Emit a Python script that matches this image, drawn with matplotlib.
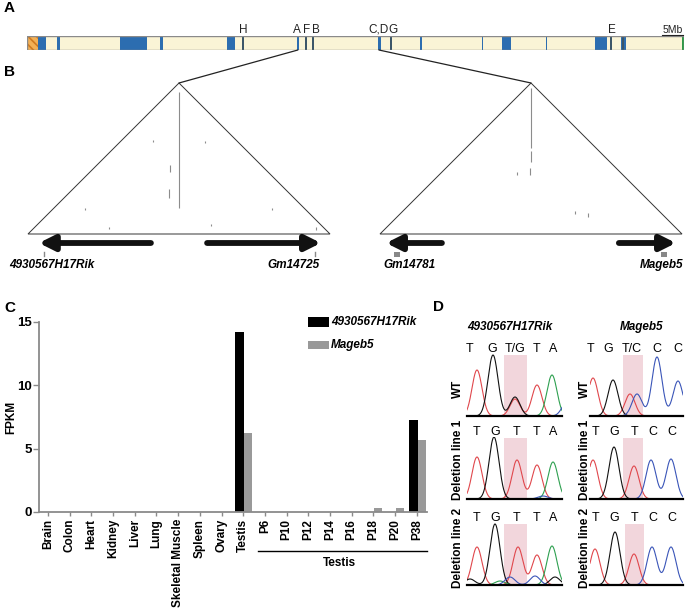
import matplotlib
matplotlib.use('Agg')
import matplotlib.pyplot as plt
import numpy as np
from matplotlib.patches import Rectangle, Polygon, ConnectionPatch
from matplotlib.transforms import blended_transform_factory

plt.rcParams['font.family'] = ['Liberation Sans', 'DejaVu Sans']
plt.rcParams['hatch.linewidth'] = 1.2

# ---------------- data ----------------
# Panel A: chromosome X (Mb)
chrom_length_mb = 171.0
centromere_mb = (0.0, 2.9)
blue_band_start = [2.9, 7.8, 24.2, 34.6, 52.1, 70.2, 91.4, 102.3, 118.4, 123.6, 135.1, 147.8, 154.6]
blue_band_end = [4.9, 8.6, 31.2, 35.4, 54.1, 70.8, 92.1, 102.8, 118.7, 126.0, 135.3, 151.0, 155.9]
dark_mark_mb = [56.2, 72.7, 74.4, 94.7, 152.0, 155.2]
end_band_mb = (170.4, 171.0)
marker_labels = ['H', 'A', 'F', 'B', 'C,D', 'G', 'E']
marker_label_mb = [56.2, 70.2, 72.9, 75.2, 91.6, 95.3, 152.3]
zoom_region_mb = [70.5, 91.6]

# Panel B: genes (fractions of each zoomed region)
gene_names = ['4930567H17Rik', 'Gm14725', 'Gm14781', 'Mageb5']
gene_region = [0, 0, 1, 1]
arrow_tail = [0.407, 0.593, 0.205, 0.791]
arrow_tip = [0.036, 0.970, 0.020, 0.980]
gene_mark = [0.053, 0.950, 0.056, 0.940]
gene_mark_kind = ['tick', 'tick', 'square', 'square']
gene_label_pos = [-0.063, 0.967, 0.010, 1.003]
gene_label_align = ['left', 'right', 'left', 'right']
# contact-map signal marks (x frac of region, y frac of height from apex, length frac)
contact_region = [0, 0, 0, 0, 0, 0, 0, 0, 0, 0, 1, 1, 1, 1, 1, 1]
contact_x = [0.500, 0.414, 0.586, 0.470, 0.466, 0.189, 0.268, 0.607, 0.808, 0.955, 0.500, 0.500, 0.497, 0.455, 0.646, 0.690]
contact_y = [0.060, 0.380, 0.385, 0.540, 0.700, 0.828, 0.955, 0.935, 0.830, 0.955, 0.030, 0.450, 0.560, 0.590, 0.850, 0.860]
contact_len = [0.770, 0.012, 0.012, 0.05, 0.06, 0.01, 0.01, 0.01, 0.01, 0.02, 0.400, 0.070, 0.050, 0.02, 0.02, 0.03]

# Panel C: FPKM
categories = ['Brain', 'Colon', 'Heart', 'Kidney', 'Liver', 'Lung', 'Skeletal Muscle',
              'Spleen', 'Ovary', 'Testis', 'P6', 'P10', 'P12', 'P14', 'P16', 'P18', 'P20', 'P38']
series_names = ['4930567H17Rik', 'Mageb5']
rik_fpkm = [0, 0, 0, 0, 0, 0, 0, 0, 0, 14.2, 0, 0, 0, 0, 0, 0, 0, 7.3]
mageb5_fpkm = [0, 0, 0, 0, 0, 0, 0, 0, 0, 6.2, 0, 0, 0, 0, 0, 0.3, 0.3, 5.7]
yticks_c = [0, 5, 10, 15]
group_label = 'Testis'
group_first, group_last = 'P6', 'P38'

# Panel D: chromatograms (channel, position, height)
trace_rows = ['WT', 'Deletion line 1', 'Deletion line 2']
trace_genes = ['4930567H17Rik', 'Mageb5']
rik_wt_peaks = [('red', 10, 46), ('black', 26, 61), ('red', 48, 17), ('black', 48, 19),
                ('red', 70, 31), ('green', 85, 41), ('blue', 100, 14)]
rik_del1_peaks = [('red', 10, 42), ('black', 27, 62), ('red', 50, 39), ('red', 70, 34),
                  ('green', 86, 37), ('blue', 76, 3)]
rik_del2_peaks = [('black', 3, 6), ('red', 10, 38), ('black', 28, 61), ('green', 33, 4),
                  ('blue', 43, 8), ('red', 51, 38), ('blue', 68, 9), ('red', 70, 30),
                  ('green', 85, 39), ('black', 88, 8)]
mageb5_wt_peaks = [('red', 3, 38), ('black', 23, 36), ('red', 40, 22), ('blue', 47, 22),
                   ('blue', 67, 59), ('blue', 88, 35)]
mageb5_del1_peaks = [('red', 3, 39), ('black', 24, 52), ('red', 44, 33), ('blue', 61, 39),
                     ('blue', 81, 40)]
mageb5_del2_peaks = [('red', 5, 36), ('black', 25, 53), ('red', 44, 31), ('blue', 62, 38),
                     ('blue', 81, 38)]
rik_wt_bases = ['T', 'G', 'T/G', 'T', 'A']
rik_del_bases = ['T', 'G', 'T', 'T', 'A']
mageb5_wt_bases = ['T', 'G', 'T/C', 'C', 'C']
mageb5_del_bases = ['T', 'G', 'T', 'C', 'C']
rik_wt_base_pos = [3, 25, 48, 70, 86]
rik_del_base_pos = [10, 28, 50, 70, 86]
mageb5_wt_base_pos = [1, 18, 42, 67, 88]
mageb5_del_base_pos = [6, 24, 45, 63, 82]
rik_pink = [(37, 60), (37, 60), (37, 60)]
mageb5_pink = [(33, 53), (33, 53), (35, 54)]

# ---------------- figure ----------------
W, H = 685, 610
fig = plt.figure(figsize=(6.85, 6.10), dpi=100)


def fax(x0, y0, x1, y1, **kw):
    return fig.add_axes([x0 / W, 1 - y1 / H, (x1 - x0) / W, (y1 - y0) / H], **kw)


ax0 = fig.add_axes([0, 0, 1, 1])
ax0.set_xlim(0, W)
ax0.set_ylim(H, 0)
ax0.axis('off')

for lab, (x, y) in zip('ABCD', [(4, 8), (4, 72), (4, 308), (433, 307)]):
    ax0.text(x, y, lab, fontsize=11, fontweight='bold', va='center', ha='left')

# ---- Panel A ----
cream, blue, dark = '#FAF4D6', '#2C6DB0', '#3C5668'
axA = fax(27, 36, 684, 50)
axA.set_xlim(0, chrom_length_mb)
axA.set_ylim(0, 1)
axA.axis('off')
axA.add_patch(Rectangle((0, 0), chrom_length_mb, 1, facecolor=cream, edgecolor='none'))
axA.add_patch(Rectangle((centromere_mb[0], 0), centromere_mb[1] - centromere_mb[0], 1,
                        facecolor='#F3B055', edgecolor='#D07A20', hatch='\\\\\\\\', lw=0))
for s, e in zip(blue_band_start, blue_band_end):
    axA.add_patch(Rectangle((s, 0), e - s, 1, facecolor=blue, edgecolor='none'))
for m in dark_mark_mb:
    axA.add_patch(Rectangle((m - 0.25, 0), 0.5, 1, facecolor=dark, edgecolor='none'))
axA.add_patch(Rectangle((end_band_mb[0], 0), end_band_mb[1] - end_band_mb[0], 1,
                        facecolor='#2E9A48', edgecolor='none'))
axA.add_patch(Rectangle((0, 0), chrom_length_mb, 1, facecolor='none', edgecolor='#8A8A8A', lw=1.0))
for lab, m in zip(marker_labels, marker_label_mb):
    axA.text(m, 1.0, lab, ha='center', va='bottom', fontsize=8.5, color='#222222')
axA.text(chrom_length_mb - 0.3, 1.05, '5Mb', ha='right', va='bottom', fontsize=7.5, color='#222222')
axA.plot([chrom_length_mb - 5.8, chrom_length_mb - 0.3], [1.05, 1.05], color='#222222', lw=0.8,
         clip_on=False)

# ---- Panel B ----
apex_y, base_y = 83, 234
regions = [(28, 330), (380, 682)]
for (xl, xr), zmb in zip(regions, zoom_region_mb):
    apex_x = (xl + xr) / 2
    ax0.add_patch(Polygon([(xl, base_y), (xr, base_y), (apex_x, apex_y)], closed=True,
                          facecolor='white', edgecolor='#333333', lw=0.7))
    con = ConnectionPatch(xyA=(zmb, 0), coordsA=axA.transData, xyB=(apex_x, apex_y),
                          coordsB=ax0.transData, color='#222222', lw=0.9)
    fig.add_artist(con)

for r, cx, cy, cl in zip(contact_region, contact_x, contact_y, contact_len):
    xl, xr = regions[r]
    x = xl + cx * (xr - xl)
    y0 = apex_y + cy * (base_y - apex_y)
    y1 = y0 + max(cl, 0.01) * (base_y - apex_y)
    ax0.plot([x, x], [y0, y1], color='#8C8C8C', lw=0.8, solid_capstyle='butt')

arrow_y = 243
for name, r, tail, tip, mk, kind, lp, la in zip(gene_names, gene_region, arrow_tail, arrow_tip,
                                                 gene_mark, gene_mark_kind, gene_label_pos,
                                                 gene_label_align):
    xl, xr = regions[r]
    xt = xl + tail * (xr - xl)
    xh = xl + tip * (xr - xl)
    ax0.annotate('', xy=(xh, arrow_y), xytext=(xt, arrow_y),
                 arrowprops=dict(arrowstyle='-|>,head_length=0.9,head_width=0.45',
                                 color='#111111', lw=4.2, shrinkA=0, shrinkB=0))
    xm = xl + mk * (xr - xl)
    if kind == 'tick':
        ax0.plot([xm, xm], [252, 256], color='#888888', lw=1.0)
    else:
        ax0.add_patch(Rectangle((xm - 3, 252), 6, 4.5, facecolor='#888888', edgecolor='none'))
    ax0.text(xl + lp * (xr - xl), 265, name, ha=la, va='center', fontsize=8.5,
             fontweight='bold', style='italic')

# ---- Panel C ----
axC = fax(39, 322, 427, 512)
axC.patch.set_alpha(0)
xc = np.arange(len(categories))
axC.bar(xc - 0.165, rik_fpkm, 0.41, color='black', label=series_names[0])
axC.bar(xc + 0.225, mageb5_fpkm, 0.38, color='#999999', label=series_names[1])
axC.set_xlim(-0.415, 17.47)
axC.set_ylim(0, 15)
axC.set_yticks(yticks_c)
axC.set_xticks(xc)
axC.set_xticklabels(categories, rotation=90, fontsize=8.5, fontweight='bold')
for t in axC.get_yticklabels():
    t.set_fontweight('bold')
    t.set_fontsize(9.5)
for s in ['top', 'right']:
    axC.spines[s].set_visible(False)
for s in ['left', 'bottom']:
    axC.spines[s].set_color('#8A8A8A')
    axC.spines[s].set_linewidth(1.3)
axC.tick_params(axis='x', length=3, width=1.0, color='#8A8A8A', pad=2)
axC.tick_params(axis='y', length=4, width=1.0, color='#8A8A8A', pad=1)
axC.set_ylabel('FPKM', fontsize=8.5, fontweight='bold')
axC.yaxis.set_label_coords(-0.055, 0.5)
tr = blended_transform_factory(axC.transData, axC.transAxes)
g0 = categories.index(group_first) - 0.3
g1 = categories.index(group_last) + 0.47
axC.plot([g0, g1], [-0.205, -0.205], color='black', lw=1.0, transform=tr, clip_on=False)
axC.text((categories.index(group_first) + categories.index(group_last)) / 2 - 0.05, -0.27,
         group_label, transform=tr, ha='center', va='center', fontsize=8.5, fontweight='bold')
# legend
leg_rect = [(317, 327), (341, 349)]
for name, col, (y0, y1) in zip(series_names, ['black', '#999999'], leg_rect):
    ax0.add_patch(Rectangle((308, y0), 21, y1 - y0, facecolor=col, edgecolor='none'))
    ax0.text(331, (y0 + y1) / 2, name, ha='left', va='center', fontsize=8.5,
             fontweight='bold', style='italic')

# ---- Panel D ----
ch_color = {'red': '#E0474C', 'black': '#111111', 'green': '#2EA050', 'blue': '#3A55B8'}
col_x = [(467, 562), (590, 683)]
row_base = [416, 499, 585]
row_label_y = [389, 460, 548]
row_label_x = [458, 585]
title_x = [510, 642]
for gx, gname in zip(title_x, trace_genes):
    ax0.text(gx, 327, gname, ha='center', va='center', fontsize=8.5, fontweight='bold',
             style='italic')

peaks_all = [[rik_wt_peaks, rik_del1_peaks, rik_del2_peaks],
             [mageb5_wt_peaks, mageb5_del1_peaks, mageb5_del2_peaks]]
bases_all = [[rik_wt_bases, rik_del_bases, rik_del_bases],
             [mageb5_wt_bases, mageb5_del_bases, mageb5_del_bases]]
bpos_all = [[rik_wt_base_pos, rik_del_base_pos, rik_del_base_pos],
            [mageb5_wt_base_pos, mageb5_del_base_pos, mageb5_del_base_pos]]
pink_all = [rik_pink, mageb5_pink]
sigma = 5.0
for c, (x0, x1) in enumerate(col_x):
    for r, base in enumerate(row_base):
        ax = fax(x0, base - 62, x1, base)
        ax.set_xlim(0, x1 - x0)
        ax.set_ylim(0, 62)
        ax.axis('off')
        ps, pe = pink_all[c][r]
        ax.axvspan(ps, pe, ymin=0, ymax=61 / 62, color='#F2D6DC', lw=0)
        xs = np.linspace(0, x1 - x0, 400)
        for ch in ['red', 'black', 'green', 'blue']:
            sel = [(p, h) for (cc, p, h) in peaks_all[c][r] if cc == ch]
            if not sel:
                continue
            ys = np.zeros_like(xs)
            for p, h in sel:
                ys += h * np.exp(-0.5 * ((xs - p) / sigma) ** 2)
            ax.plot(xs, ys, color=ch_color[ch], lw=0.8)
        ax.plot([0, x1 - x0], [0, 0], color='black', lw=1.6, clip_on=False)
        for b, bp in zip(bases_all[c][r], bpos_all[c][r]):
            ax.text(bp, 67, b, ha='center', va='center', fontsize=9, clip_on=False)
        ax0.text(row_label_x[c], row_label_y[r], trace_rows[r], rotation=90, ha='center',
                 va='center', fontsize=8.5, fontweight='bold')

fig.savefig('out.png', dpi=100)
